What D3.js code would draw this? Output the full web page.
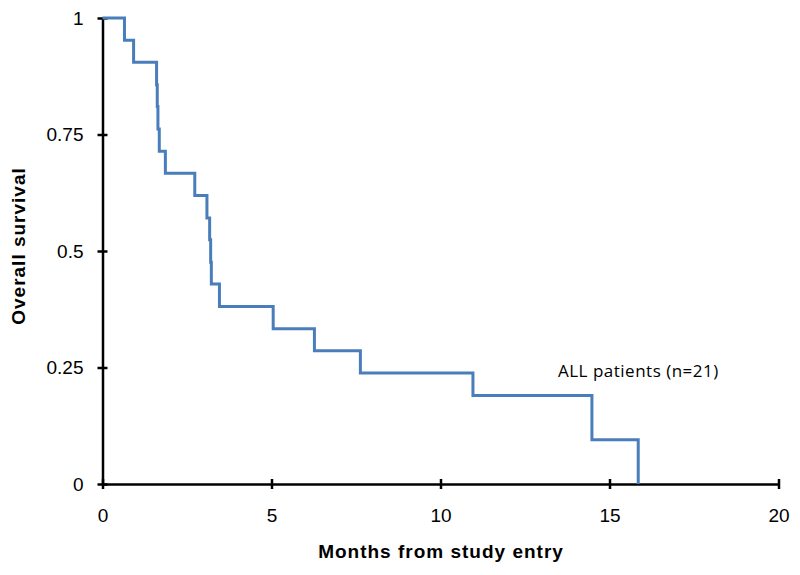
<!DOCTYPE html>
<html><head><meta charset="utf-8">
<script src="https://cdn.jsdelivr.net/npm/d3@7"></script>
<style>body{margin:0;background:#fff}</style>
</head><body>
<svg id="c" width="800" height="575"></svg>
<script>
// Kaplan-Meier step data (months, survival)
const times = [0, 0.65, 0.92, 1.60, 1.62, 1.64, 1.68, 1.86, 2.73, 3.09, 3.17, 3.20, 3.22, 3.46, 5.05, 6.27, 7.63, 10.96, 14.48, 15.85];
const survival = [1, 0.952, 0.905, 0.857, 0.810, 0.762, 0.714, 0.667, 0.619, 0.571, 0.524, 0.476, 0.429, 0.381, 0.333, 0.286, 0.238, 0.190, 0.095, 0];
const xTicks = [0, 5, 10, 15, 20];
const yTicks = [0, 0.25, 0.5, 0.75, 1];
const yTickLabels = ["0", "0.25", "0.5", "0.75", "1"];
const seriesLabel = "ALL patients (n=21)";
const xTitle = "Months from study entry";
const yTitle = "Overall survival";

const svg = d3.select("#c");
const x = d3.scaleLinear().domain([0, 20]).range([102.5, 778.5]);
const y = d3.scaleLinear().domain([0, 1]).range([484, 18]);

const data = times.map((t, i) => ({t, s: survival[i]}));
const line = d3.line().x(d => x(d.t)).y(d => y(d.s)).curve(d3.curveStepAfter);

const font = "Liberation Sans, Arial, sans-serif";

// x axis
const xa = svg.append("g").attr("transform", `translate(0,${y(0)})`)
  .call(d3.axisBottom(x).tickValues(xTicks).tickSize(0).tickPadding(0).tickFormat(d3.format("d")));
xa.select(".domain").attr("stroke", "#000").attr("stroke-width", 2.5);
xa.selectAll(".tick line").remove();
xa.selectAll(".tick").append("line").attr("y1", -5).attr("y2", 5).attr("stroke", "#000").attr("stroke-width", 2.5);
xa.selectAll(".tick text").attr("y", 25).attr("font-family", font).attr("font-size", 19).attr("fill", "#000");

// y axis
const ya = svg.append("g").attr("transform", `translate(${x(0)},0)`)
  .call(d3.axisLeft(y).tickValues(yTicks).tickSize(0).tickPadding(0).tickFormat((d, i) => yTickLabels[i]));
ya.select(".domain").attr("stroke", "#000").attr("stroke-width", 2.5);
ya.selectAll(".tick line").remove();
ya.selectAll(".tick").append("line").attr("x1", -5).attr("x2", 5).attr("stroke", "#000").attr("stroke-width", 2.5);
ya.selectAll(".tick text").attr("x", -19).attr("font-family", font).attr("font-size", 19).attr("fill", "#000");

// KM curve
svg.append("path").datum(data).attr("d", line)
  .attr("fill", "none").attr("stroke", "#4a7ebb").attr("stroke-width", 3)
  .attr("stroke-linejoin", "miter").attr("stroke-linecap", "butt");

// series label
svg.append("text").attr("x", 558).attr("y", 377).text(seriesLabel)
  .attr("font-family", "Open Sans, Liberation Sans, sans-serif").attr("font-size", 17)
  .attr("letter-spacing", 0.5).attr("fill", "#000");

// axis titles
svg.append("text").attr("x", 441).attr("y", 558).attr("text-anchor", "middle").text(xTitle)
  .attr("font-family", font).attr("font-weight", "bold").attr("font-size", 19).attr("letter-spacing", 1);
svg.append("text").attr("transform", "translate(25,246) rotate(-90)").attr("text-anchor", "middle").text(yTitle)
  .attr("font-family", font).attr("font-weight", "bold").attr("font-size", 19).attr("letter-spacing", 1);
</script>
</body></html>
